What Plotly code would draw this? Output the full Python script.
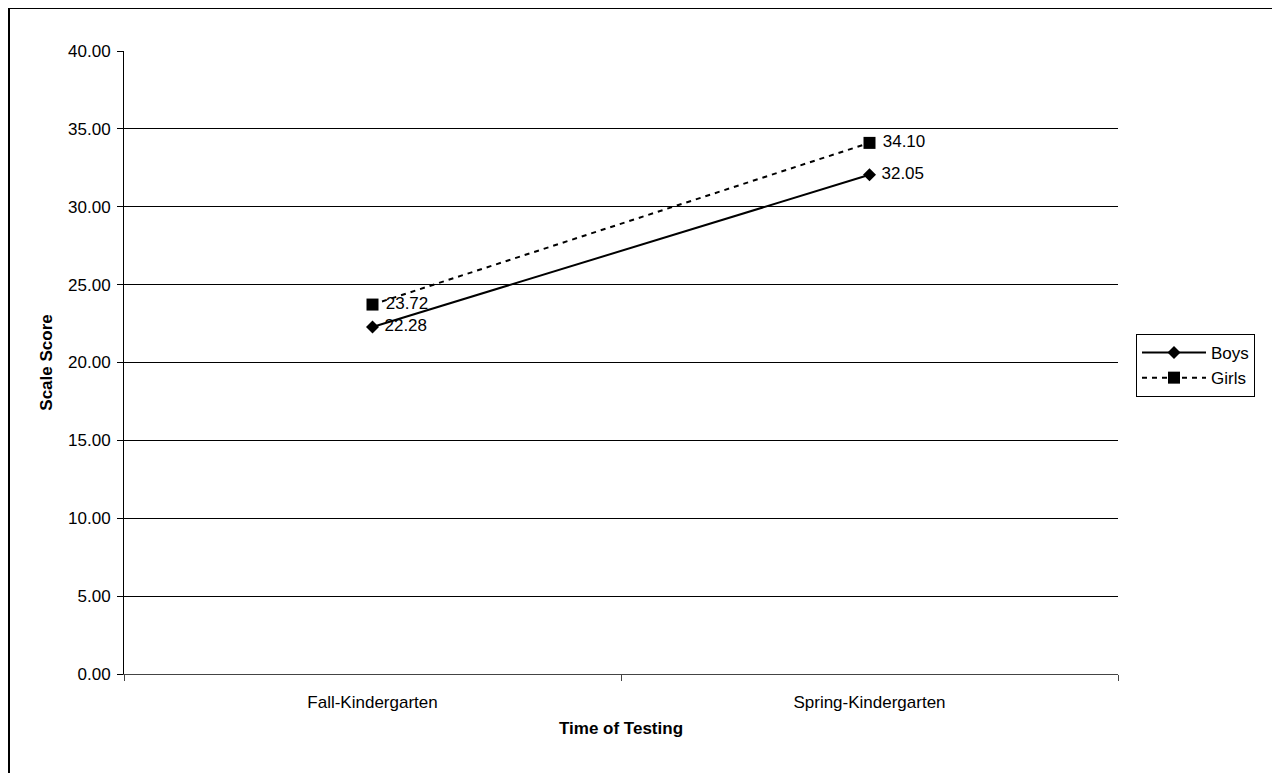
import plotly.graph_objects as go

categories = ["Fall-Kindergarten", "Spring-Kindergarten"]
boys = [22.28, 32.05]
girls = [23.72, 34.10]
y_ticks = [0, 5, 10, 15, 20, 25, 30, 35, 40]

# page has an 8px body margin; figure coords = page coords - 8
W, H = 1272, 765
L, R, T, B = 116, 1110, 43, 666
FONT = "Liberation Sans, Arial"
FS = 17

fig = go.Figure()
fig.add_trace(go.Scatter(
    x=categories, y=boys, name="Boys", mode="lines+markers+text",
    line=dict(color="black", width=2, dash="solid"),
    marker=dict(symbol="diamond", size=10, color="black"),
    texttemplate=" %{y:.2f}", textposition="middle right",
    textfont=dict(family=FONT, size=FS, color="black"),
))
fig.add_trace(go.Scatter(
    x=categories, y=girls, name="Girls", mode="lines+markers+text",
    line=dict(color="black", width=2, dash="5px,5px"),
    marker=dict(symbol="square", size=12, color="black"),
    texttemplate=" %{y:.2f}", textposition="middle right",
    textfont=dict(family=FONT, size=FS, color="black"),
))

pw, ph = R - L, B - T
fig.add_shape(type="rect", xref="paper", yref="paper",
              x0=(1 - L) / pw, x1=(1290 - L) / pw,
              y0=(B - 800) / ph, y1=(B - 0) / ph,
              line=dict(color="black", width=2), layer="below")

fig.update_layout(
    width=W, height=H,
    margin=dict(l=L, r=W - R, t=T, b=H - B, autoexpand=False),
    paper_bgcolor="white", plot_bgcolor="white",
    font=dict(family=FONT, size=FS, color="black"),
    showlegend=True,
    legend=dict(x=(1128 - L) / pw, y=(B - 326) / ph, xanchor="left", yanchor="top",
                bordercolor="black", borderwidth=1, bgcolor="white",
                font=dict(size=FS), tracegroupgap=0, itemwidth=64),
    xaxis=dict(
        type="category", range=[-0.5, 1.5],
        showline=True, linecolor="#444", linewidth=1,
        ticks="outside", tickson="boundaries", ticklen=6, tickcolor="#444",
        showgrid=False, tickfont=dict(size=FS), ticklabelstandoff=13,
        title=dict(text="<b>Time of Testing</b>", font=dict(size=FS), standoff=10),
    ),
    yaxis=dict(
        range=[0, 40], tickvals=y_ticks,
        ticktext=[f"{v:.2f}" for v in y_ticks],
        showline=True, linecolor="black", linewidth=1,
        ticks="outside", ticklen=6, tickcolor="black",
        showgrid=True, gridcolor="black", gridwidth=1,
        zeroline=False, tickfont=dict(size=FS), ticklabelstandoff=3,
        title=dict(text="<b>Scale Score</b>", font=dict(size=FS), standoff=11),
    ),
)

fig.write_html("out.html")
